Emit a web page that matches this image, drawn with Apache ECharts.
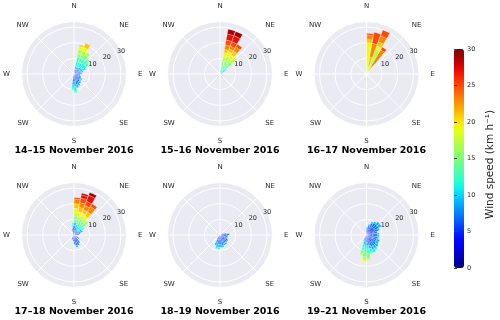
<!DOCTYPE html>
<html>
<head>
<meta charset="utf-8">
<script src="https://cdn.jsdelivr.net/npm/echarts@6/dist/echarts.min.js"></script>
<style>
html, body { margin: 0; padding: 0; background: #fff; }
#main { width: 500px; height: 320px; }
</style>
</head>
<body>
<div id="main"></div>
<script>
// wind direction sectors (start angle, 10 deg wide) and speed bins (km/h, 2 km/h wide)
const sectorNames = ['0','10','20','30','40','50','60','70','80','90','100','110','120','130','140','150','160','170',
  '180','190','200','210','220','230','240','250','260','270','280','290','300','310','320','330','340','350'];
const speedEdges = [0, 2, 4, 6, 8, 10, 12, 14, 16, 18, 20, 22, 24, 26, 28, 30];
const compass = ['N', 'NE', 'E', 'SE', 'S', 'SW', 'W', 'NW'];
const ringTicks = [10, 20, 30];

const titles = ['14–15 November 2016', '15–16 November 2016', '16–17 November 2016',
  '17–18 November 2016', '18–19 November 2016', '19–21 November 2016'];

// counts per speed bin, one row per sector
const sectors1 = [10, 20, 30, 40, 50, 60, 70, 80, 90, 100, 110, 120, 130, 140, 150, 160, 170, 180];
const counts1 = [
  [0,1,1,1,2,3,3,2,3,2,1],
  [0,1,1,1,2,3,3,2,3,2,3],
  [0,1,1,1,2,3,3,3,2],
  [0,1,1,2,2,3,3,1],
  [0,1,1,2,2,3,2],
  [0,1,1,2,2,2],
  [0,1,2,2,1],
  [0,1,2,1,1],
  [0,1,2,1],
  [0,1,2,1],
  [0,1,2,2],
  [0,1,2,2,1],
  [0,1,2,2,1],
  [0,1,3,2,1],
  [0,1,3,3,1],
  [0,1,3,3,2],
  [0,1,2,2,3,3,1],
  [0,1,2,2,2,2,1]
];

const sectors2 = [10, 20, 30, 40, 50];
const counts2 = [
  [0,0,0,0,1,2,2,3,3,3,2,3,3,4,3],
  [0,0,0,0,1,2,3,3,3,3,2,2,3,4,3],
  [0,0,0,0,1,2,2,3,3,3,3,3,2],
  [0,0,0,1,1,2,3,3,3,1],
  [0,0,1,1,2,1]
];

const sectors3 = [0, 10, 20, 30];
const counts3 = [
  [0,0,0,0,0,0,0,0,1,19,2,3,1],
  [0,0,0,0,0,0,0,0,2,3,6,9,7],
  [0,0,0,0,0,0,0,3,14,2,3,4,4],
  [0,0,0,0,0,0,0,0,0,2,4,12,2]
];

const sectors4 = [340, 350, 0, 10, 20, 30, 40, 50, 60, 70, 80, 120, 140, 150, 160, 170, 180, 200];
const counts4 = [
  [0,1,2,1],
  [0,1,2,2,1,1,1],
  [0,2,2,2,2,1,1,2,2,3,3,3,1],
  [0,1,2,2,1,1,1,2,2,3,3,3,3,2,1],
  [0,1,1,2,1,2,2,2,2,2,2,3,3,4,2],
  [0,1,1,1,1,2,2,2,2,2,3,4,2],
  [0,1,1,1,1,2,2,2,2],
  [0,1,1,2,2,1,1],
  [0,1,2,2,1],
  [0,1,2,1],
  [0,1,2],
  [0,1,2,1],
  [0,1,3,2],
  [0,2,3,2],
  [0,2,3,2,1],
  [0,1,3,2],
  [0,1,2,1],
  [0,1,2]
];

const sectors5 = [60, 70, 80, 90, 100, 110, 120, 130, 140, 150, 160, 170, 180, 190, 200, 210];
const counts5 = [
  [0,1,1],
  [0,1,2,1],
  [0,1,3,2],
  [0,1,3,1],
  [0,1,3,1],
  [0,1,2,2],
  [0,1,3,2],
  [0,1,3,2],
  [0,1,3,2,1],
  [0,1,3,2,1],
  [0,1,3,3,1],
  [0,1,2,3,2],
  [0,1,2,3,2,1],
  [0,1,2,3,2,1],
  [0,1,2,2,2],
  [0,1,1,1]
];

const sectors6 = [0, 10, 20, 30, 40, 50, 60, 70, 80, 90, 100, 110, 120, 130, 140, 150, 160, 170, 180, 190, 200];
const counts6 = [
  [0,1,2,2],
  [0,1,3,2,1],
  [0,2,3,3,1],
  [0,2,4,3,1],
  [0,2,4,3,2],
  [0,2,4,3,2],
  [0,2,3,3,1],
  [0,1,3,3],
  [0,1,3,3,1],
  [0,1,3,3,1],
  [0,1,3,3,1],
  [0,1,3,3,2],
  [0,1,3,3,2],
  [0,2,3,3,2],
  [0,2,3,3,2,1],
  [0,2,3,3,2,2],
  [0,1,3,3,2,2,1],
  [0,1,2,2,2,2,3,3,1],
  [0,1,2,2,2,2,2,3,2,1],
  [0,1,1,2,2,2,2,2,1],
  [0,1,1,1,1]
];

const panels = [
  { sectors: sectors1, counts: counts1 },
  { sectors: sectors2, counts: counts2 },
  { sectors: sectors3, counts: counts3 },
  { sectors: sectors4, counts: counts4 },
  { sectors: sectors5, counts: counts5 },
  { sectors: sectors6, counts: counts6 }
];

// layout
const centers = [[74, 74], [220, 74], [366.5, 74], [74, 235], [220, 235], [366.5, 235]];
const titleY = [146, 146, 146, 307, 307, 307];
const R = 52.5;
const RMAX = 33.5;

// matplotlib jet
function jet(x) {
  const r = x < 0.35 ? 0 : x < 0.66 ? (x - 0.35) / 0.31 : x < 0.89 ? 1 : 1 - 0.5 * (x - 0.89) / 0.11;
  const g = x < 0.125 ? 0 : x < 0.375 ? (x - 0.125) / 0.25 : x < 0.64 ? 1 : x < 0.91 ? 1 - (x - 0.64) / 0.27 : 0;
  const b = x < 0.11 ? 0.5 + 0.5 * x / 0.11 : x < 0.34 ? 1 : x < 0.65 ? 1 - (x - 0.34) / 0.31 : 0;
  const h = v => Math.round(Math.max(0, Math.min(1, v)) * 255).toString(16).padStart(2, '0');
  return '#' + h(r) + h(g) + h(b);
}
const jetStops = [];
for (let i = 0; i <= 30; i++) jetStops.push(jet(i / 30));

const txt = '#262626';
const font = 'DejaVu Sans';
const N = centers.length;

const polar = [], angleAxis = [], radiusAxis = [], series = [], title = [];

// 1: grey disc
centers.forEach((c, k) => {
  polar.push({ center: c, radius: R });
  angleAxis.push({
    polarIndex: k, type: 'value', min: 0, max: 360, interval: 45, startAngle: 90, z: 0,
    axisLine: { show: false }, axisTick: { show: false }, axisLabel: { show: false },
    splitLine: { show: false },
    splitArea: { show: true, areaStyle: { color: ['#EAEAF2'] } }
  });
  radiusAxis.push({ polarIndex: k, type: 'value', min: 0, max: RMAX, show: false });
});

// 2: white grid and compass labels
centers.forEach((c, k) => {
  polar.push({ center: c, radius: R });
  angleAxis.push({
    polarIndex: N + k, type: 'value', min: 0, max: 360, interval: 45,
    startAngle: 90, clockwise: true, z: 1,
    axisLine: { show: false }, axisTick: { show: false },
    axisLabel: { margin: 11.5, fontSize: 7, color: txt, fontFamily: font,
      formatter: v => compass[Math.round(v / 45) % 8] },
    splitLine: { show: true, lineStyle: { color: '#fff', width: 1 } }
  });
  radiusAxis.push({
    polarIndex: N + k, type: 'value', min: 0, max: RMAX, interval: 10, z: 1,
    axisLine: { show: false }, axisTick: { show: false }, axisLabel: { show: false },
    splitLine: { show: true, lineStyle: { color: '#fff', width: 1 } }
  });
  title.push({
    text: titles[k], left: c[0], top: titleY[k], textAlign: 'center', padding: 0,
    textStyle: { fontFamily: font, fontWeight: 'bold', fontSize: 9.5, color: '#000' }
  });
});

// 3: stacked bars
centers.forEach((c, k) => {
  polar.push({ center: c, radius: R });
  angleAxis.push({ polarIndex: 2 * N + k, type: 'category', data: sectorNames, startAngle: 90, clockwise: true, show: false });
  radiusAxis.push({ polarIndex: 2 * N + k, type: 'value', min: 0, max: RMAX, show: false });
  const p = panels[k];
  for (let b = 0; b < speedEdges.length - 1; b++) {
    const data = sectorNames.map(() => '-');
    p.sectors.forEach((s, j) => {
      const v = p.counts[j][b] || 0;
      if (v > 0) data[sectorNames.indexOf(String(s))] = v;
    });
    series.push({
      type: 'bar', coordinateSystem: 'polar', polarIndex: 2 * N + k, stack: 'p' + k,
      barCategoryGap: '6%', silent: true, animation: false, z: 2,
      itemStyle: { color: jet((speedEdges[b] + speedEdges[b + 1]) / 2 / 30), borderColor: 'rgba(255,255,255,0.6)', borderWidth: 0.4 },
      data: data
    });
  }
});

// 4: ring labels
centers.forEach((c, k) => {
  polar.push({ center: c, radius: R });
  angleAxis.push({ polarIndex: 3 * N + k, type: 'value', min: 0, max: 360, startAngle: 24, show: false });
  radiusAxis.push({
    polarIndex: 3 * N + k, type: 'value', min: 0, max: RMAX, interval: 10, z: 3,
    axisLine: { show: false }, axisTick: { show: false }, splitLine: { show: false },
    axisLabel: { margin: 0, fontSize: 6.5, color: txt, fontFamily: font, align: 'left', verticalAlign: 'bottom',
      formatter: v => ringTicks.indexOf(v) >= 0 ? String(v) : '' }
  });
});

const chart = echarts.init(document.getElementById('main'), null, { renderer: 'canvas' });
chart.setOption({
  animation: false,
  textStyle: { fontFamily: font },
  title: title,
  polar: polar,
  angleAxis: angleAxis,
  radiusAxis: radiusAxis,
  grid: { left: 454, top: 49, width: 10, height: 219, show: false },
  xAxis: { type: 'value', show: false, axisLine: { show: false } },
  yAxis: {
    type: 'value', min: 0, max: 30, interval: 5, position: 'right', z: 6,
    axisLine: { show: false },
    axisTick: { show: true, inside: false, length: 3, lineStyle: { color: '#444', width: 1 } },
    axisLabel: { fontSize: 6.5, color: txt, margin: 3, fontFamily: font },
    splitLine: { show: false },
    name: 'Wind speed (km h⁻¹)', nameLocation: 'middle', nameRotate: 90, nameGap: 21,
    nameTextStyle: { fontSize: 10.5, color: txt, fontFamily: font, padding: [0, 12, 0, 0] }
  },
  visualMap: {
    type: 'continuous', min: 0, max: 30, left: 454, top: 49, itemWidth: 10, itemHeight: 219, z: 1,
    calculable: false, hoverLink: false, indicatorSize: 0, padding: 0, seriesIndex: [],
    textStyle: { color: 'rgba(0,0,0,0)' },
    handleStyle: { opacity: 0 }, indicatorStyle: { opacity: 0 },
    inRange: { color: jetStops }
  },
  series: series
});
</script>
</body>
</html>
